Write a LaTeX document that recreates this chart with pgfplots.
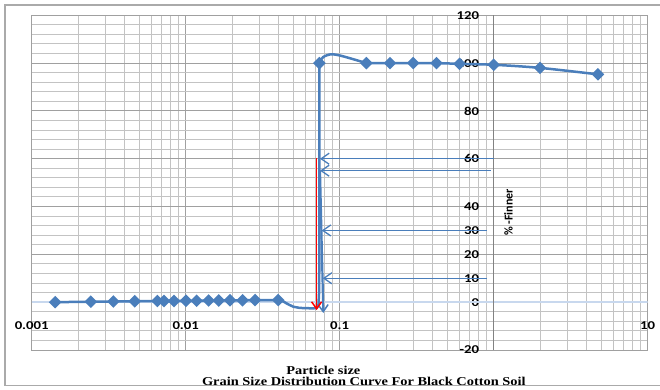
\documentclass[border=0pt]{standalone}
\usepackage{pgfplots}
\pgfplotsset{compat=1.18}
\usetikzlibrary{arrows.meta}
\usepackage{fontspec}
\setmainfont{Carlito}
\newfontfamily\tickfont[FakeStretch=1.23]{Carlito}
\newfontfamily\titlefont[FakeStretch=1.2]{Liberation Serif}
\definecolor{xlblue}{RGB}{74,126,187}
\definecolor{majgrid}{RGB}{160,160,160}
\definecolor{mingrid}{RGB}{195,195,195}
\definecolor{zeroline}{RGB}{200,216,238}
\definecolor{framegray}{RGB}{170,170,170}
\definecolor{yaxgray}{RGB}{130,130,130}
\begin{document}
\begin{tikzpicture}
\begin{axis}[
  scale only axis, width=616bp, height=334.7bp,
  xmode=log, xmin=0.001, xmax=10, ymin=-20, ymax=120,
  xtick={0.001,0.01,0.1,1,10}, xticklabels={0.001,0.01,0.1,,10},
  minor xtick={0.002,0.003,0.004,0.005,0.006,0.007,0.008,0.009,
               0.02,0.03,0.04,0.05,0.06,0.07,0.08,0.09,
               0.2,0.3,0.4,0.5,0.6,0.7,0.8,0.9,
               2,3,4,5,6,7,8,9},
  ytick={-20,0,20,40,60,80,100,120}, yticklabels={-20,0,20,40,60,80,100,120},
  minor y tick num=4,
  extra y ticks={10,30}, extra y tick labels={10,30},
  extra y tick style={grid=none},
  grid=both,
  major grid style={majgrid, line width=1bp},
  minor grid style={mingrid, line width=1bp},
  major tick length=0pt, minor tick length=0pt,
  axis line style={majgrid, line width=1bp},
  xticklabel style={font={\tickfont\bfseries\fontsize{12bp}{12bp}\selectfont}, anchor=base, inner sep=0pt, yshift=20.7bp},
  yticklabel style={font={\tickfont\bfseries\fontsize{12bp}{12bp}\selectfont}, anchor=east, inner sep=0pt, xshift=447.6bp},
]
% x axis at y=0 and y axis at x=1
\addplot[zeroline, line width=1.6bp, forget plot] coordinates {(0.001,0) (10,0)};
\addplot[yaxgray, line width=1bp, forget plot] coordinates {(1,-20) (1,120)};

% connecting part of the curve (dip and steep rise)
\addplot[xlblue, line width=2.5bp, no marks, line join=round] coordinates {
(0.0399,0.9) (0.043,0.3) (0.046,-0.8) (0.05,-1.9) (0.055,-2.4) (0.0674,-2.6) (0.071,-2.4)
(0.0728,-1) (0.0736,5) (0.0738,30) (0.0738,100)};
\addplot[xlblue, line width=2.5bp, no marks, smooth] coordinates {
(0.0738,100) (0.078,102.5) (0.0878,103.7) (0.1,103.2) (0.12,101.8) (0.149,100)};

% annotation arrows
\addplot[xlblue, line width=1.3bp, -{Straight Barb[length=8bp,width=11bp,line width=1.3bp]}] coordinates {(1,60) (0.0745,60)};
\addplot[xlblue, line width=1.1bp, -{Straight Barb[length=8bp,width=11bp,line width=1.3bp]}] coordinates {(0.96,55) (0.0745,55)};
\addplot[xlblue, line width=1.3bp, -{Straight Barb[length=8bp,width=11bp,line width=1.3bp]}] coordinates {(0.90,30) (0.0764,30)};
\addplot[xlblue, line width=1.3bp, -{Straight Barb[length=8bp,width=11bp,line width=1.3bp]}] coordinates {(0.90,10) (0.0776,10)};
\addplot[xlblue, line width=2.2bp, -{Straight Barb[length=7bp,width=10bp,line width=1.5bp]}] coordinates {(0.0745,55) (0.0783,-4.5)};
% red D60 line
\addplot[red, line width=1.8bp, -{Straight Barb[length=7bp,width=10bp,line width=1.5bp]}] coordinates {(0.0708,60.3) (0.0708,-3.3)};

% hydrometer part
\addplot[xlblue, line width=2.5bp, mark=square*, mark size=3.2bp, mark options={rotate=45, solid}] coordinates {
(0.00142,0.0) (0.00242,0.2) (0.00339,0.3) (0.00467,0.4) (0.00655,0.5) (0.00723,0.5) (0.00840,0.5)
(0.01005,0.6) (0.01178,0.6) (0.0141,0.7) (0.0164,0.7) (0.0194,0.8) (0.0234,0.8) (0.0282,0.9) (0.0399,0.9)};
% sieve part
\addplot[xlblue, line width=2.5bp, mark=square*, mark size=3.2bp, mark options={rotate=45, solid}] coordinates {
(0.0738,100)};
\addplot[xlblue, line width=2.5bp, smooth, mark=square*, mark size=3.2bp, mark options={rotate=45, solid}] coordinates {
(0.149,100) (0.212,100) (0.3,100) (0.425,100) (0.6,99.7) (1,99.3) (2,98) (4.75,95.3)};

\node[font={\bfseries\fontsize{12bp}{12bp}\selectfont}, rotate=90, anchor=center, inner sep=0pt] at (axis cs:1.245,37.5) {\% -Finner};
\end{axis}
\node[anchor=base, inner sep=0pt, font={\titlefont\bfseries\fontsize{12bp}{12bp}\selectfont}] at (291.6bp,-24bp) {Particle size};
\node[anchor=base, inner sep=0pt, font={\titlefont\bfseries\fontsize{12bp}{12bp}\selectfont}] at (332.1bp,-35bp) {Grain Size Distribution Curve For Black Cotton Soil};
\draw[framegray, line width=1.5bp] (640bp,345bp) -- (-26.7bp,345bp) -- (-26.7bp,-35.5bp) -- (640bp,-35.5bp);
\pgfresetboundingbox
\useasboundingbox (-31.7bp,-40bp) rectangle (628.3bp,350bp);
\end{tikzpicture}
\end{document}
